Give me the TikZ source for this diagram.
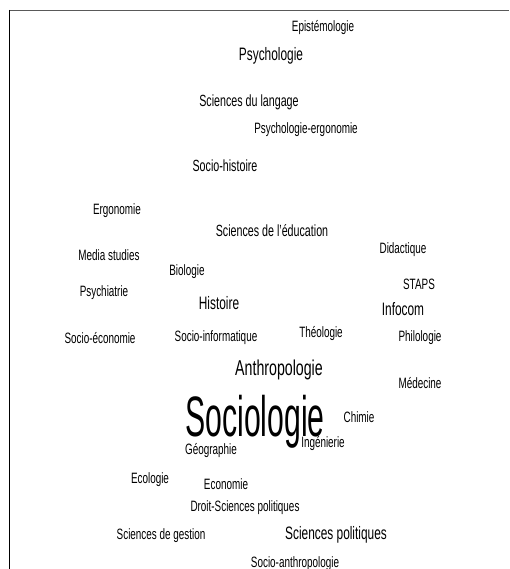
\documentclass[tikz,border=0pt]{standalone}
\usepackage{fontspec}
\setmainfont[FakeStretch=0.66]{Liberation Sans}
\newfontfamily\narrowfont[FakeStretch=0.53]{Liberation Sans}

\tikzset{
    word/.style={inner sep=0pt, font=\fontsize{15}{18}\selectfont},
    wordmid/.style={inner sep=0pt, font=\fontsize{16.2}{19}\selectfont},
    wordbig/.style={inner sep=0pt, font=\fontsize{18}{21}\selectfont},
    wordlarge/.style={inner sep=0pt, font=\fontsize{21.5}{25}\selectfont},
    wordhuge/.style={inner sep=0pt, font=\narrowfont\fontsize{57}{64}\selectfont}
}

\begin{document}
\begin{tikzpicture}[x=1pt, y=-1pt]
        \useasboundingbox (0,0) rectangle (509,569);

        % frame
        \draw[line width=1.5pt, black!65] (9,10.5) -- (509,10.5);
        \draw[line width=1.5pt, black] (9.5,10) -- (9.5,569);

        % top of the cloud
        \node[word] (episte) at (323,28) {Epistémologie};
        \node[wordbig] (psycho) at (271,56) {Psychologie};
        \node[wordmid] (langage) at (249,102) {Sciences du langage};
        \node[word] (psyergo) at (306,130) {Psychologie-ergonomie};
        \node[wordmid] (sochist) at (225,166) {Socio-histoire};

        % middle
        \node[word] (ergo) at (117,211) {Ergonomie};
        \node[wordmid] (educ) at (272,231) {Sciences de l'éducation};
        \node[word] (media) at (109,255) {Media studies};
        \node[word] (didac) at (403,250) {Didactique};
        \node[word] (bio) at (187,272) {Biologie};
        \node[word] (staps) at (419,284) {STAPS};
        \node[word] (psychia) at (104,293) {Psychiatrie};
        \node[wordbig] (hist) at (219,303) {Histoire};
        \node[wordbig] (infocom) at (403,309) {Infocom};
        \node[word] (soceco) at (100,338) {Socio-économie};
        \node[word] (socinfo) at (216,338) {Socio-informatique};
        \node[word] (theo) at (321,334) {Théologie};
        \node[word] (philo) at (420,338) {Philologie};
        \node[wordlarge] (anthro) at (279,370) {Anthropologie};
        \node[word] (medecine) at (420,383) {Médecine};

        % centre
        \node[wordhuge] (socio) at (255,422) {Sociologie};
        \node[word] (chimie) at (359,417) {Chimie};
        \node[word] (inge) at (323,444) {Ingénierie};
        \node[word] (geo) at (211,451) {Géographie};

        % bottom
        \node[word] (eco) at (150,480) {Ecologie};
        \node[word] (econ) at (226,484) {Economie};
        \node[word] (droit) at (245,508) {Droit-Sciences politiques};
        \node[word] (gestion) at (161,536) {Sciences de gestion};
        \node[wordbig] (scpol) at (336,535) {Sciences politiques};
        \node[word] (socanthro) at (295,564) {Socio-anthropologie};
    \end{tikzpicture}
\end{document}
